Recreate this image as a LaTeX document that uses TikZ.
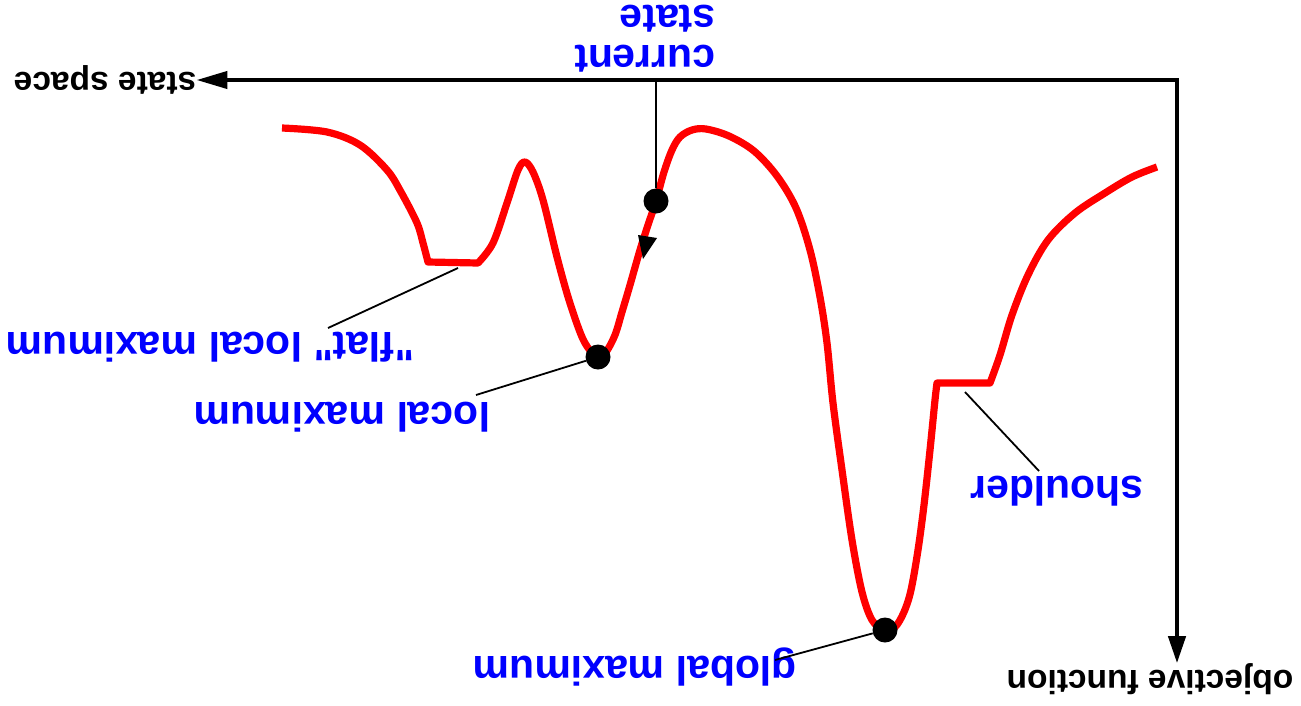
\documentclass[tikz,border=0pt]{standalone}
\usepackage{fontspec}
\setmainfont{Liberation Sans}
\newfontfamily\labelfont{Liberation Sans}
\usetikzlibrary{arrows.meta}
\begin{document}
\begin{tikzpicture}[x=1pt,y=-1pt,
  curve/.style={draw=red, line width=7.2pt, line join=round},
  axis/.style={line width=4.2pt, line join=miter},
  leader/.style={line width=1.8pt},
  dot/.style={circle, fill=black, inner sep=0pt, minimum size=25pt},
  blab/.style={text=blue, font=\labelfont\fontsize{41}{40}\selectfont\bfseries, rotate=180, inner sep=0pt},
  klab/.style={text=black, font=\labelfont\fontsize{33.5}{40}\selectfont\bfseries, rotate=180, inner sep=0pt}
]
\useasboundingbox (0,0) rectangle (1301,705);

% labels
\node[klab] (ss) at (105,79.5) {state space};
\node[klab] (of) at (1150,679) {objective function};
\node[blab, align=left] (cs) at (645,39) {current\\state};
\node[blab] (flat) at (210,347) {"flat" local maximum};
\node[blab] (lm) at (342,417) {local maximum};
\node[blab] (gm) at (635,667) {global maximum};
\node[blab] (sh) at (1057,491) {shoulder};

% axes
\coordinate (corner) at (1177,80);
\draw[axis, {Triangle[length=31pt,width=17pt]}-{Triangle[length=27pt,width=17pt]}]
  (ss.west |- corner) -- (corner) -- (corner |- of.south);

% landscape curve
\draw[curve]
  plot[smooth, tension=0.55] coordinates {(282,128) (327,132) (360,145) (387,170) (401,192) (417,223) (423,243) (428,262)}
  -- plot[smooth, tension=0.55] coordinates {(478,263) (493,243) (507,203) (518,170) (525,162) (533,172) (543,200) (557,257) (569,300) (582,337) (592,353) (598,357) (606,352) (615,335) (622,312) (630,285) (640,250) (648,225) (656,201) (664,172) (672,150) (680,137) (692,130) (706,129) (729,136) (754,151) (777,176) (796,208) (810,250) (820,297) (827,343) (833,403) (842,470) (852,540) (862,592) (872,620) (884,630) (895,627) (904,612) (911,590) (918,550) (924,505) (930,450) (935,400) (937,383)}
  -- plot[smooth, tension=0.55] coordinates {(990,383) (1000,355) (1012,315) (1028,275) (1048,240) (1075,213) (1105,193) (1132,177) (1157,167)};

% dots
\node[dot] (csdot) at (656,201) {};
\node[dot] (lmdot) at (598,357) {};
\node[dot] (gmdot) at (885,630) {};

% direction arrowhead on the curve
\fill (638,235) -- (657,238) -- (643,259) -- cycle;

% leaders
\coordinate (flatend) at (328,328);
\coordinate (flatpt) at (458,268);
\coordinate (lmend) at (476,395);
\coordinate (gmend) at (775,660);
\coordinate (shpt) at (965,392);
\coordinate (shend) at (1039,471);
\draw[leader] (csdot |- corner) -- (csdot);
\draw[leader] (flatend) -- (flatpt);
\draw[leader] (lmend) -- (lmdot);
\draw[leader] (gmend) -- (gmdot);
\draw[leader] (shend) -- (shpt);
\end{tikzpicture}
\end{document}
